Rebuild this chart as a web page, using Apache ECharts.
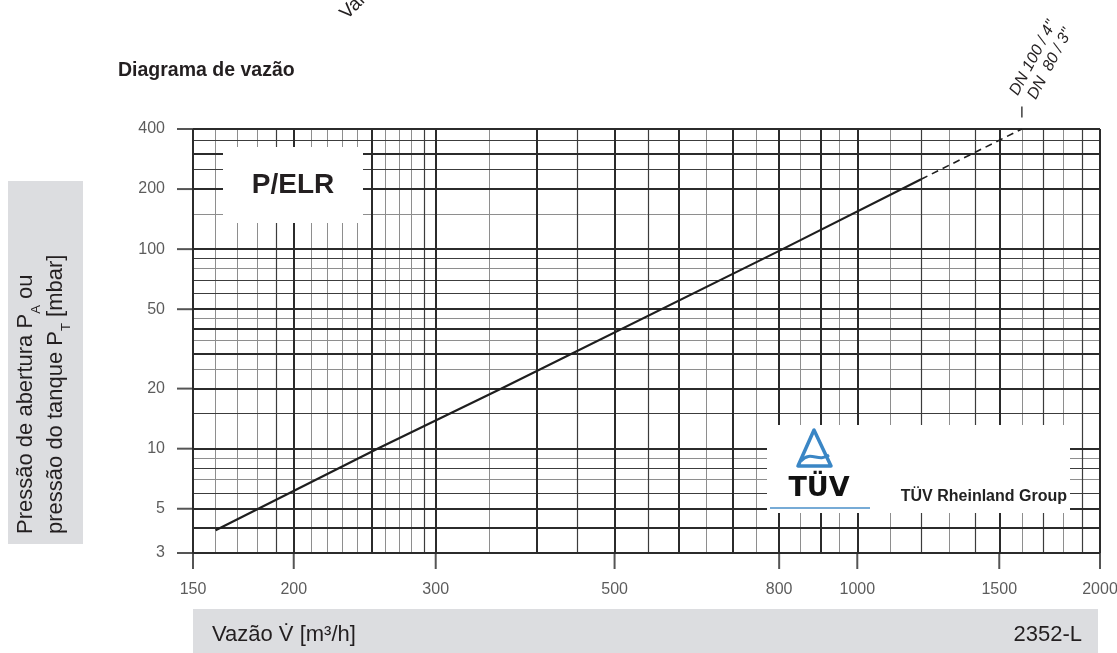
<!DOCTYPE html>
<html><head><meta charset="utf-8">
<script src="https://cdn.jsdelivr.net/npm/echarts@6/dist/echarts.min.js"></script>
<style>html,body{margin:0;padding:0;background:#fff}#c{width:1117px;height:653px}</style>
</head><body><div id="c"></div>
<script>
const xMin = 150, xMax = 2000, yMin = 3, yMax = 400;
const xTickLabels = [150, 200, 300, 500, 800, 1000, 1500, 2000];
const yTickLabels = [3, 5, 10, 20, 50, 100, 200, 400];
const xGridMajor = [150, 200, 250, 300, 400, 500, 600, 700, 800, 900, 1000, 1500, 2000];
const xGridDark = [190, 290, 450, 550, 1200, 1400, 1700, 1900];
const xGridLight = [160, 170, 180, 210, 220, 230, 240, 260, 270, 280, 350, 650, 750, 850, 950, 1100, 1300, 1600, 1800];
const yGridMajor = [3, 4, 5, 10, 20, 30, 40, 50, 100, 200, 300, 400];
const yGridDark = [6, 8, 15, 60, 70, 90, 250, 350];
const yGridLight = [7, 9, 25, 35, 45, 80, 150];
const curveSolid = [[160, 3.9], [254, 10], [362, 20], [800, 98], [1200, 224]];
const curveDashed = [[1200, 224], [1600, 400]];
const dnMark = [[1600, 400]];

const FF = '"Liberation Sans", Arial, Helvetica, sans-serif';
const TXT = '#231f20';
const sMajor = {type: 'solid', color: '#2b2b2b', width: 2};
const sDark = {type: 'solid', color: '#3c3c3c', width: 1.2};
const sLight = {type: 'solid', color: '#8e8e8e', width: 1};

const gridLines = [].concat(
  xGridLight.map(v => ({xAxis: v, lineStyle: sLight})),
  yGridLight.map(v => ({yAxis: v, lineStyle: sLight})),
  xGridDark.map(v => ({xAxis: v, lineStyle: sDark})),
  yGridDark.map(v => ({yAxis: v, lineStyle: sDark})),
  xGridMajor.map(v => ({xAxis: v, lineStyle: sMajor})),
  yGridMajor.map(v => ({yAxis: v, lineStyle: sMajor}))
);

const chart = echarts.init(document.getElementById('c'), null, {renderer: 'canvas'});
chart.setOption({
  animation: false,
  backgroundColor: '#fff',
  grid: {left: 193, right: 17, top: 129, bottom: 100, containLabel: false},
  xAxis: {type: 'log', logBase: 10, min: xMin, max: xMax,
    axisLine: {show: false}, axisTick: {show: false}, axisLabel: {show: false}, splitLine: {show: false}, minorSplitLine: {show: false}},
  yAxis: {type: 'log', logBase: 10, min: yMin, max: yMax,
    axisLine: {show: false}, axisTick: {show: false}, axisLabel: {show: false}, splitLine: {show: false}, minorSplitLine: {show: false}},
  series: [
    {type: 'line', z: 1, data: [], silent: true,
      markLine: {silent: true, symbol: ['none', 'none'], label: {show: false}, animation: false, data: gridLines}},
    {type: 'scatter', z: 3, clip: false, silent: true, symbol: 'rect', symbolSize: [16, 2], symbolOffset: [-8, 0],
      itemStyle: {color: '#2b2b2b'}, data: yTickLabels.map(v => [xMin, v]),
      label: {show: true, position: 'left', distance: 12, formatter: p => String(p.value[1]), fontSize: 16, color: '#333', fontFamily: FF}},
    {type: 'scatter', z: 3, clip: false, silent: true, symbol: 'rect', symbolSize: [2, 16], symbolOffset: [0, 8],
      itemStyle: {color: '#2b2b2b'}, data: xTickLabels.map(v => [v, yMin]),
      label: {show: true, position: 'bottom', distance: 13, formatter: p => String(p.value[0]), fontSize: 16, color: '#333', fontFamily: FF}},
    {type: 'line', z: 5, data: curveSolid, symbol: 'none', silent: true,
      lineStyle: {color: '#1e1e1e', width: 2.2, type: 'solid'}},
    {type: 'line', z: 5, data: curveDashed, symbol: 'none', silent: true,
      lineStyle: {color: '#1e1e1e', width: 1.6, type: [7, 5]}},
    {type: 'scatter', z: 5, clip: false, silent: true, symbol: 'rect', symbolSize: [1.6, 11], symbolOffset: [0, -17],
      itemStyle: {color: '#1e1e1e'}, data: dnMark}
  ],
  graphic: [
    {type: 'text', z: 100, x: 118, y: 71, style: {text: 'Diagrama de vazão', font: 'bold 19.5px ' + FF, fill: TXT, align: 'left', verticalAlign: 'middle'}},
    {type: 'text', z: 100, x: 350, y: 23, rotation: Math.PI / 4, style: {text: 'Valores', font: '19px ' + FF, fill: TXT, align: 'left', verticalAlign: 'bottom'}},
    {type: 'text', z: 100, x: 1021, y: 98, rotation: 62 * Math.PI / 180, style: {text: 'DN 100 / 4"', font: 'italic 16px ' + FF, fill: TXT, align: 'left', verticalAlign: 'bottom'}},
    {type: 'text', z: 100, x: 1039, y: 102, rotation: 62 * Math.PI / 180, style: {text: 'DN  80 / 3"', font: 'italic 16px ' + FF, fill: TXT, align: 'left', verticalAlign: 'bottom'}},
    // P/ELR box
    {type: 'rect', z: 90, shape: {x: 223, y: 147, width: 140, height: 76}, style: {fill: '#fff'}},
    {type: 'text', z: 100, x: 293, y: 185, style: {text: 'P/ELR', font: 'bold 28px ' + FF, fill: TXT, align: 'center', verticalAlign: 'middle'}},
    // TÜV box
    {type: 'rect', z: 90, shape: {x: 767, y: 425, width: 303, height: 88}, style: {fill: '#fff'}},
    {type: 'polygon', z: 100, shape: {points: [[814, 430], [798, 466], [831, 466]]}, style: {fill: 'none', stroke: '#3a86c5', lineWidth: 3.5, lineJoin: 'round'}},
    {type: 'bezierCurve', z: 100, shape: {x1: 801, y1: 461, cpx1: 811, cpy1: 450, cpx2: 818, cpy2: 463, x2: 829, y2: 455}, style: {fill: 'none', stroke: '#3a86c5', lineWidth: 3}},
    {type: 'text', z: 100, x: 819, y: 489, style: {text: 'TÜV', font: 'bold 27px "DejaVu Sans", ' + FF, fill: '#111', align: 'center', verticalAlign: 'middle'}},
    {type: 'line', z: 100, shape: {x1: 770, y1: 508, x2: 870, y2: 508}, style: {stroke: '#4a8fc8', lineWidth: 1.5}},
    {type: 'text', z: 100, x: 1067, y: 497, style: {text: 'TÜV Rheinland Group', font: 'bold 16px ' + FF, fill: '#222', align: 'right', verticalAlign: 'middle'}},
    // left label box
    {type: 'rect', z: 80, shape: {x: 8, y: 181, width: 75, height: 363}, style: {fill: '#dcdde0'}},
    {type: 'text', z: 100, x: 26, y: 534, rotation: Math.PI / 2, style: {
      text: 'Pressão de abertura P{s|A} ou', font: '22px ' + FF, fill: TXT, align: 'left', verticalAlign: 'middle',
      rich: {s: {fontSize: 13, fontFamily: FF, fill: TXT, lineHeight: 33, verticalAlign: 'bottom'}}}},
    {type: 'text', z: 100, x: 56, y: 534, rotation: Math.PI / 2, style: {
      text: 'pressão do tanque P{s|T} [mbar]', font: '22px ' + FF, fill: TXT, align: 'left', verticalAlign: 'middle',
      rich: {s: {fontSize: 13, fontFamily: FF, fill: TXT, lineHeight: 33, verticalAlign: 'bottom'}}}},
    // bottom label box
    {type: 'rect', z: 80, shape: {x: 193, y: 609, width: 905, height: 44}, style: {fill: '#dcdde0'}},
    {type: 'text', z: 100, x: 212, y: 635, style: {text: 'Vazão V\u0307 [m³/h]', font: '22px ' + FF, fill: TXT, align: 'left', verticalAlign: 'middle'}},
    {type: 'text', z: 100, x: 1082, y: 635, style: {text: '2352-L', font: '22px ' + FF, fill: TXT, align: 'right', verticalAlign: 'middle'}}
  ]
});
</script></body></html>
